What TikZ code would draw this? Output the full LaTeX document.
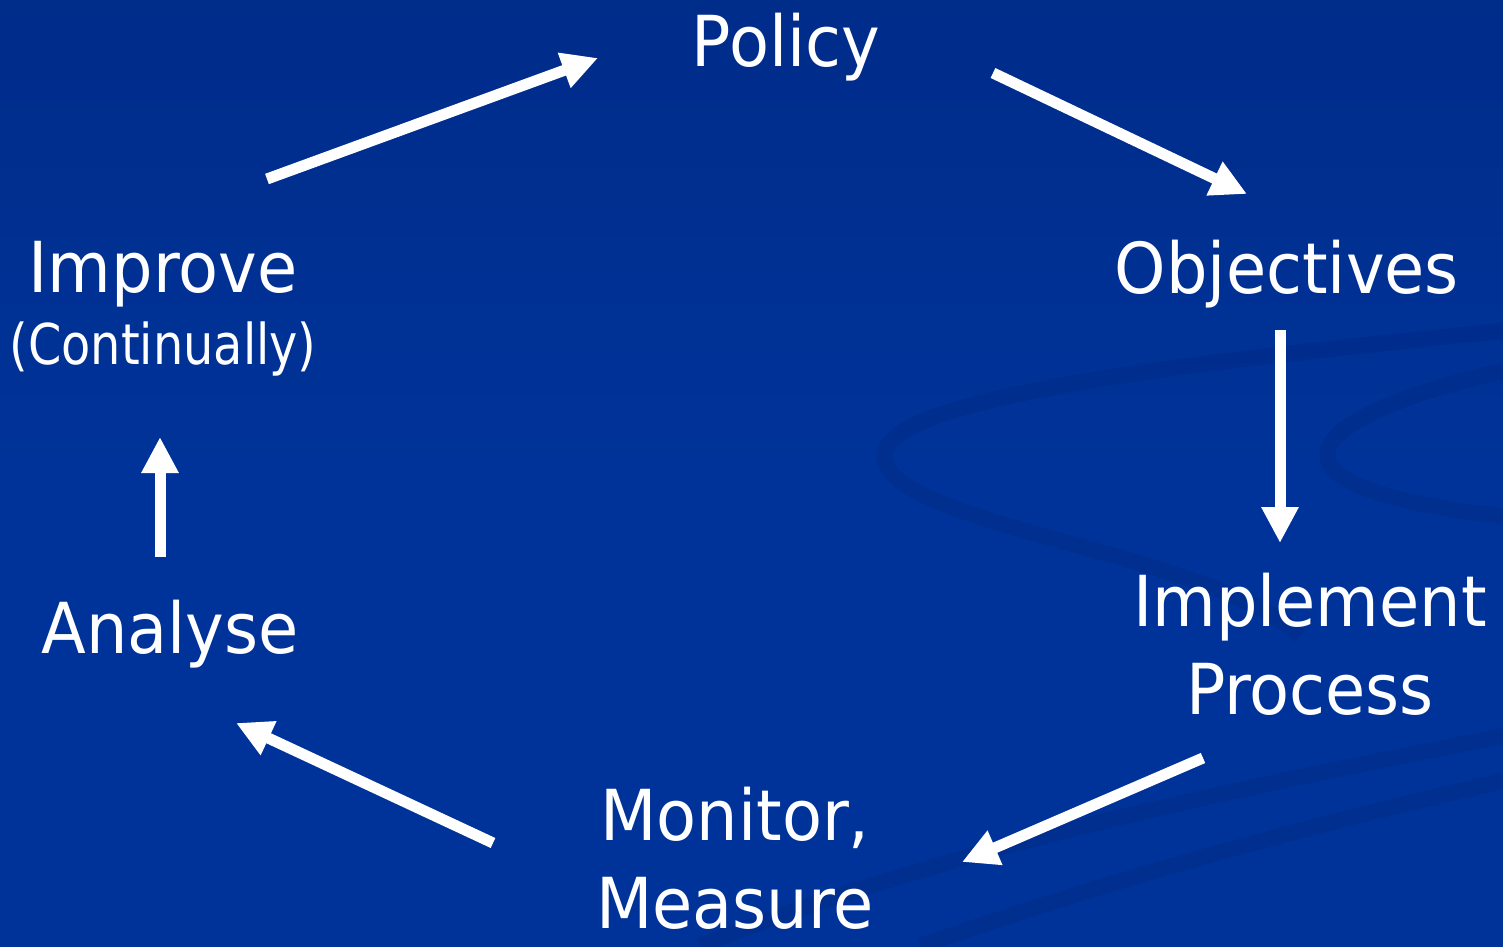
\documentclass[tikz,border=0pt]{standalone}
\usepackage{fontspec}
\setmainfont{DejaVu Sans}[FakeStretch=0.93]
\newfontfamily\narrowfont{DejaVu Sans}[FakeStretch=0.85]
\usetikzlibrary{arrows,arrows.meta,positioning}
\definecolor{slideblue}{RGB}{0,51,153}
\definecolor{slidetop}{RGB}{0,44,138}
\definecolor{swirlblue}{RGB}{0,38,125}

\begin{document}
\begin{tikzpicture}[
  cycletext/.style={text=white,font=\fontsize{20}{25.3}\selectfont,align=center,anchor=base,inner sep=0pt},
  smalltext/.style={text=white,font=\narrowfont\fontsize{16}{20}\selectfont,anchor=base,inner sep=0pt},
  cyclearrow/.style={white,line width=0.11cm,-{Triangle[length=0.36cm,width=0.35cm]}},
  swirl/.style={swirlblue,line width=0.16cm,opacity=0.3}
]
\useasboundingbox (0,0) rectangle (15.03,9.46);
\shade[top color=slidetop,bottom color=slideblue,middle color=slideblue] (0,0) rectangle (15.03,9.46);
\begin{scope}
\clip (0,0) rectangle (15.03,9.46);
\draw[swirl] (15.03,6.15) .. controls (11.5,5.8) and (8.7,5.45) .. (8.85,4.85) .. controls (9.0,4.2) and (12.2,3.9) .. (13.0,3.1);
\draw[swirl] (15.03,5.75) .. controls (13.9,5.5) and (13.0,5.1) .. (13.35,4.75) .. controls (13.6,4.5) and (14.5,4.35) .. (15.03,4.3);
\draw[swirl] (7.0,0) .. controls (9.5,1.0) and (12.5,1.6) .. (15.03,2.1);
\draw[swirl] (9.2,0) .. controls (11.5,0.8) and (13.5,1.3) .. (15.03,1.65);
\end{scope}

\node[cycletext] (policy) at (7.86,8.79) {Policy};
\node[cycletext] (objectives) at (12.87,6.52) {Objectives};
\node[cycletext] (implement) at (13.10,2.31) {Implement\\Process};
\node[cycletext] (monitor) at (7.35,0.17) {Monitor,\\Measure};
\node[cycletext] (analyse) at (1.70,2.93) {Analyse};
\node[cycletext] (improve) at (1.63,6.53) {Improve};
\node[smalltext] (continually) at (1.63,5.81) {(Continually)};

\coordinate (improvetail) at (2.67,7.67);
\coordinate (policyhead) at (5.98,8.88);
\coordinate (policytail) at (9.93,8.73);
\coordinate (objectiveshead) at (12.47,7.52);
\coordinate (objectivestail) at (12.80,6.16);
\coordinate (implementhead) at (12.80,4.03);
\coordinate (implementtail) at (12.03,1.88);
\coordinate (monitorhead) at (9.62,0.84);
\coordinate (monitortail) at (4.93,1.03);
\coordinate (analysehead) at (2.36,2.23);
\coordinate (analysetail) at (1.60,3.89);
\coordinate (improvehead) at (1.60,5.09);

\draw[cyclearrow] (improvetail) to (policyhead);
\draw[cyclearrow] (policytail) to (objectiveshead);
\draw[cyclearrow] (objectivestail) to (implementhead);
\draw[cyclearrow] (implementtail) to (monitorhead);
\draw[cyclearrow] (monitortail) to (analysehead);
\draw[cyclearrow] (analysetail) to (improvehead);

\end{tikzpicture}
\end{document}
